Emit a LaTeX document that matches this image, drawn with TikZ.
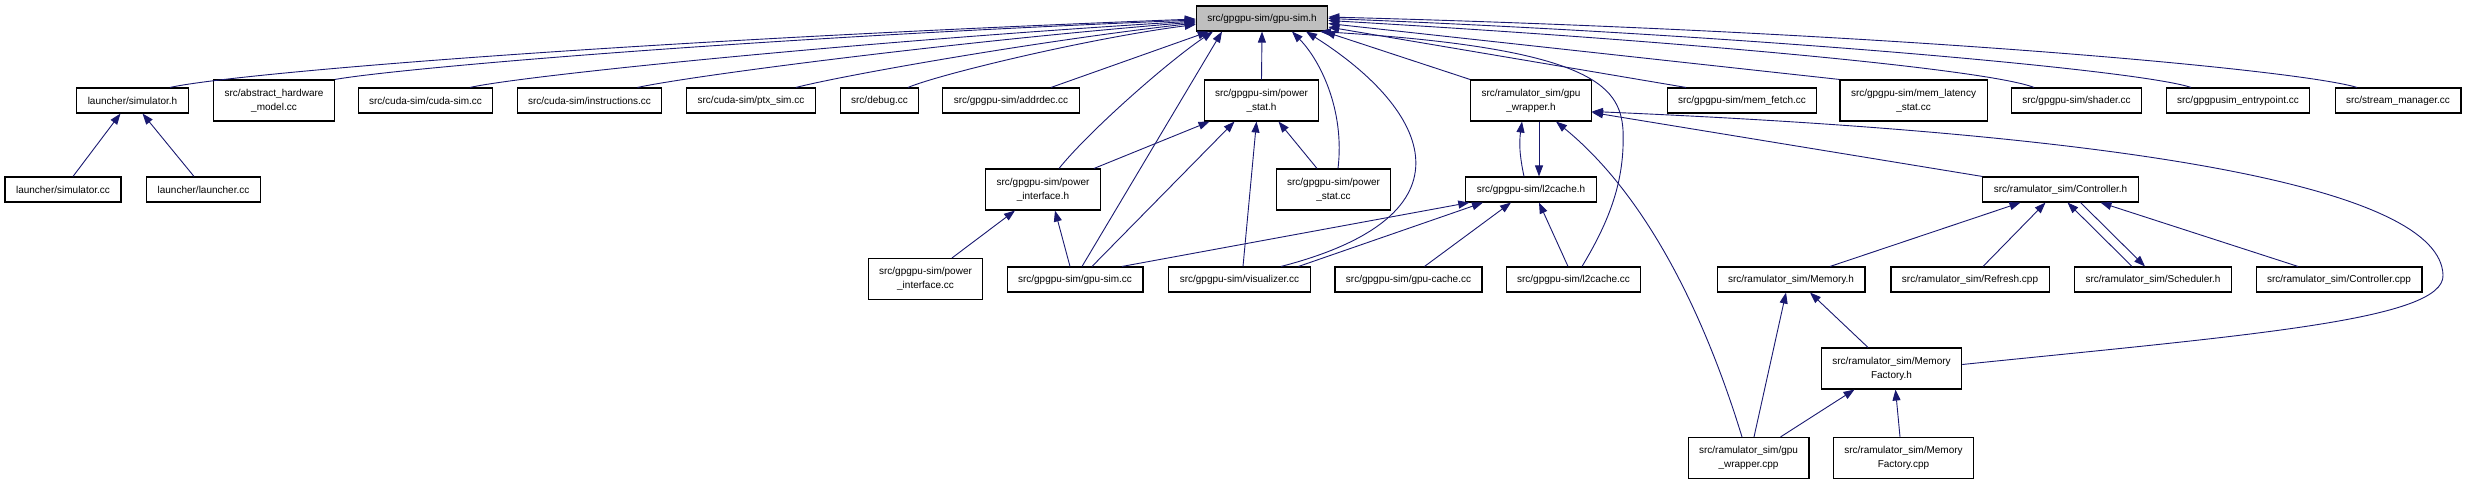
\documentclass[tikz,border=0pt]{standalone}
\usepackage{fontspec}
\setmainfont{Liberation Sans}
\usepackage{tikz}
\usetikzlibrary{arrows.meta}
\definecolor{edgeBlue}{HTML}{191970}
\definecolor{rootFill}{HTML}{BFBFBF}
\tikzset{
  file/.style={
    rectangle, draw=black, fill=white, line width=1.1pt,
    inner xsep=11pt, inner ysep=3pt, minimum height=25pt,
    align=center, font=\fontsize{10}{14}\selectfont
  },
  file2/.style={file, minimum height=41pt},
  root/.style={file, fill=rootFill},
  inc/.style={-{Triangle[length=11pt,width=8pt]}, line width=0.9pt, draw=edgeBlue}
}

\begin{document}
\begin{tikzpicture}[x=1pt,y=-1pt]
  \useasboundingbox (0,0) rectangle (2467,484);
  % root header
  \node[root] (gpusimh) at (1262,18.5) {src/gpgpu-sim/gpu-sim.h};
  % row 2
  \node[file]  (simh)       at (132.5,100.5) {launcher/simulator.h};
  \node[file2] (abstract)   at (274,100.5)   {src/abstract\_hardware\\\_model.cc};
  \node[file]  (cudasim)    at (425.5,100.5) {src/cuda-sim/cuda-sim.cc};
  \node[file]  (instr)      at (589.5,100.5) {src/cuda-sim/instructions.cc};
  \node[file]  (ptxsim)     at (751,100.5)   {src/cuda-sim/ptx\_sim.cc};
  \node[file]  (debug)      at (879.5,100.5) {src/debug.cc};
  \node[file]  (addrdec)    at (1011,100.5)  {src/gpgpu-sim/addrdec.cc};
  \node[file2] (powerstath) at (1261.5,100.5) {src/gpgpu-sim/power\\\_stat.h};
  \node[file2] (gpuwraph)   at (1531,100.5)  {src/ramulator\_sim/gpu\\\_wrapper.h};
  \node[file]  (memfetch)   at (1742,100.5)  {src/gpgpu-sim/mem\_fetch.cc};
  \node[file2] (memlat)     at (1913.5,100.5) {src/gpgpu-sim/mem\_latency\\\_stat.cc};
  \node[file]  (shader)     at (2076.5,100.5) {src/gpgpu-sim/shader.cc};
  \node[file]  (entry)      at (2238,100.5)  {src/gpgpusim\_entrypoint.cc};
  \node[file]  (stream)     at (2398,100.5)  {src/stream\_manager.cc};
  % row 3
  \node[file]  (simcc)       at (63,189.5)    {launcher/simulator.cc};
  \node[file]  (launchercc)  at (203.5,189.5) {launcher/launcher.cc};
  \node[file2] (powerifh)    at (1043,189.5)  {src/gpgpu-sim/power\\\_interface.h};
  \node[file2] (powerstatcc) at (1333.5,189.5) {src/gpgpu-sim/power\\\_stat.cc};
  \node[file]  (l2cacheh)    at (1531,189.5)  {src/gpgpu-sim/l2cache.h};
  \node[file]  (ctrlh)       at (2060.5,189.5) {src/ramulator\_sim/Controller.h};
  % row 4
  \node[file2] (powerifcc) at (925.5,279)   {src/gpgpu-sim/power\\\_interface.cc};
  \node[file]  (gpusimcc)  at (1075,279.5)  {src/gpgpu-sim/gpu-sim.cc};
  \node[file]  (visual)    at (1239.5,279.5) {src/gpgpu-sim/visualizer.cc};
  \node[file]  (gpucache)  at (1408.5,279.5) {src/gpgpu-sim/gpu-cache.cc};
  \node[file]  (l2cachecc) at (1573.5,279.5) {src/gpgpu-sim/l2cache.cc};
  \node[file]  (memoryh)   at (1791,279.5)  {src/ramulator\_sim/Memory.h};
  \node[file]  (refresh)   at (1970,279.5)  {src/ramulator\_sim/Refresh.cpp};
  \node[file]  (sched)     at (2153,279.5)  {src/ramulator\_sim/Scheduler.h};
  \node[file]  (ctrlcpp)   at (2339,279.5)  {src/ramulator\_sim/Controller.cpp};
  % rows 5 and 6
  \node[file2] (memfach)   at (1891.5,368.5) {src/ramulator\_sim/Memory\\Factory.h};
  \node[file2] (wrapcpp)   at (1748.5,458)   {src/ramulator\_sim/gpu\\\_wrapper.cpp};
  \node[file2] (memfaccpp) at (1903.5,458)   {src/ramulator\_sim/Memory\\Factory.cpp};

  % launcher
  \draw[inc] ([xshift=10]simcc.north) -- ([xshift=-12]simh.south);
  \draw[inc] ([xshift=-9.5]launchercc.north) -- ([xshift=10]simh.south);
  % into the root, left side
  \draw[inc] ([xshift=37.5]simh.north) .. controls (230,74) and (600,42) .. ([yshift=-0.5]gpusimh.west);
  \draw[inc] (abstract.north east) .. controls (400,68) and (750,38) .. ([yshift=-1.5]gpusimh.west);
  \draw[inc] ([xshift=44.5]cudasim.north) .. controls (520,76) and (850,42) .. ([yshift=-2.5]gpusimh.west);
  \draw[inc] ([xshift=48]instr.north) .. controls (690,76) and (950,42) .. ([yshift=-3.5]gpusimh.west);
  \draw[inc] ([xshift=45]ptxsim.north) .. controls (840,76) and (1030,42) .. ([yshift=-4.5]gpusimh.west);
  \draw[inc] ([xshift=28.5]debug.north) .. controls (940,74) and (1090,38) .. ([yshift=-6]gpusimh.west);
  \draw[inc] ([xshift=40]addrdec.north) -- ([xshift=13]gpusimh.south west);
  % into the root, from below
  \draw[inc] ([xshift=16]powerifh.north) .. controls (1090,130) and (1170,60) .. ([xshift=-49]gpusimh.south);
  \draw[inc] ([xshift=7]gpusimcc.north) -- ([xshift=-40]gpusimh.south);
  \draw[inc] (powerstath.north) -- (gpusimh.south);
  \draw[inc] ([xshift=4.5]powerstatcc.north) .. controls (1345,110) and (1320,60) .. ([xshift=30]gpusimh.south);
  \draw[inc] ([xshift=41.5]visual.north) .. controls (1480,215) and (1430,110) .. ([xshift=44]gpusimh.south);
  \draw[inc] ([xshift=8.5]l2cachecc.north) .. controls (1610,220) and (1625,180) .. (1623,130)
    .. controls (1620,85) and (1590,48) .. ([xshift=58]gpusimh.south);
  % into the root, right side
  \draw[inc] (gpuwraph.north west) -- ([xshift=-4]gpusimh.south east);
  \draw[inc] ([xshift=-56]memfetch.north) -- ([yshift=-8.5]gpusimh.east);
  \draw[inc] (memlat.north west) -- ([yshift=-5]gpusimh.east);
  \draw[inc] ([xshift=-42.5]shader.north) .. controls (1990,70) and (1700,42) .. ([yshift=-2]gpusimh.east);
  \draw[inc] ([xshift=-47]entry.north) .. controls (2140,70) and (1750,35) .. (gpusimh.east);
  \draw[inc] ([xshift=-41]stream.north) .. controls (2300,70) and (1900,32) .. ([yshift=1.5]gpusimh.east);
  % power headers
  \draw[inc] ([xshift=26.5]powerifcc.north) -- ([xshift=-28]powerifh.south);
  \draw[inc] ([xshift=-5]gpusimcc.north) -- ([xshift=12]powerifh.south);
  \draw[inc] ([xshift=51]powerifh.north) -- ([xshift=-52]powerstath.south);
  \draw[inc] ([xshift=-16.5]powerstatcc.north) -- ([xshift=17]powerstath.south);
  \draw[inc] ([xshift=3.5]visual.north) -- ([xshift=-5]powerstath.south);
  \draw[inc] ([xshift=17]gpusimcc.north) -- ([xshift=-27]powerstath.south);
  % l2cache.h
  \draw[inc] ([xshift=47]gpusimcc.north) -- ([xshift=4]l2cacheh.south west);
  \draw[inc] ([xshift=59]visual.north) -- ([xshift=-48]l2cacheh.south);
  \draw[inc] ([xshift=16]gpucache.north) -- ([xshift=-20]l2cacheh.south);
  \draw[inc] ([xshift=-5.5]l2cachecc.north) -- ([xshift=8]l2cacheh.south);
  % gpu_wrapper.h
  \draw[inc] ([xshift=-7]l2cacheh.north) to[bend left=10] ([xshift=-9]gpuwraph.south);
  \draw[inc] ([xshift=8]gpuwraph.south) -- ([xshift=8]l2cacheh.north);
  \draw[inc] ([xshift=-6.5]wrapcpp.north) .. controls (1700,300) and (1640,190) .. ([xshift=25]gpuwraph.south);
  \draw[inc] (ctrlh.north west) -- ([yshift=-12]gpuwraph.east);
  \draw[inc] ([yshift=4]memfach.east) .. controls (2250,335) and (2445,320) .. (2443,275)
    .. controls (2440,190) and (2150,135) .. ([yshift=-11]gpuwraph.east);
  % Controller.h
  \draw[inc] ([xshift=39]memoryh.north) -- ([xshift=-40]ctrlh.south);
  \draw[inc] ([xshift=13]refresh.north) -- ([xshift=-15]ctrlh.south);
  \draw[inc] ([xshift=-21]sched.north) -- ([xshift=7]ctrlh.south);
  \draw[inc] ([xshift=20]ctrlh.south) -- ([xshift=-8]sched.north);
  \draw[inc] ([xshift=-41]ctrlcpp.north) -- ([xshift=40]ctrlh.south);
  % Memory.h and MemoryFactory.h
  \draw[inc] ([xshift=5.5]wrapcpp.north) -- ([xshift=-5]memoryh.south);
  \draw[inc] ([xshift=-23.5]memfach.north) -- ([xshift=19]memoryh.south);
  \draw[inc] ([xshift=32]wrapcpp.north) -- ([xshift=-37]memfach.south);
  \draw[inc] ([xshift=-3.5]memfaccpp.north) -- ([xshift=4]memfach.south);
\end{tikzpicture}
\end{document}
